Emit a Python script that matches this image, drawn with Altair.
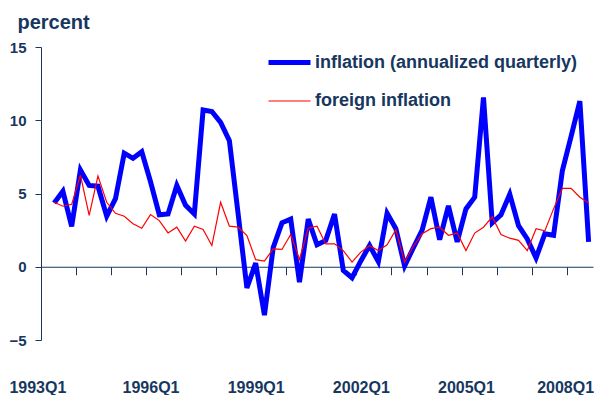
import altair as alt
import pandas as pd

# Quarterly categories 1993Q1 .. 2008Q3
quarters = [f"{y}Q{q}" for y in range(1993, 2009) for q in range(1, 5)][:63]

# inflation (annualized quarterly), starts 1993Q2 (1993Q1 empty)
inflation = [None,
    4.35, 5.15, 2.75, 6.6, 5.55, 5.5, 3.45, 4.65, 7.75, 7.4,
    7.85, 5.8, 3.55, 3.6, 5.55, 4.2, 3.6, 10.7, 10.6, 9.85,
    8.6, 3.6, -1.45, 0.25, -3.3, 1.3, 3.0, 3.25, -1.05, 3.25,
    1.5, 1.8, 3.6, -0.25, -0.75, 0.4, 1.45, 0.35, 3.65, 2.6,
    0.05, 1.3, 2.5, 4.75, 1.85, 4.15, 1.7, 3.95, 4.75, 11.55,
    3.0, 3.55, 4.95, 2.8, 1.9, 0.6, 2.25, 2.15, 6.55, 8.9,
    11.3, 1.7]

foreign = [None,
    4.4, 4.13, 4.26, 6.26, 3.5, 6.2, 4.4, 3.65, 3.45, 2.93,
    2.63, 3.56, 3.15, 2.31, 2.7, 1.75, 2.77, 2.54, 1.45, 4.4,
    2.77, 2.7, 2.13, 0.48, 0.39, 1.22, 1.18, 2.2, 0.5, 2.63,
    2.77, 1.56, 1.56, 1.1, 0.32, 1.0, 1.43, 1.11, 1.5, 2.53,
    0.32, 1.4, 2.25, 2.6, 2.7, 2.15, 2.3, 1.1, 2.3, 2.7,
    3.4, 2.2, 1.95, 1.8, 1.1, 2.6, 2.45, 3.95, 5.35, 5.35,
    4.75, 4.35]

series_names = ["inflation (annualized quarterly)", "foreign inflation"]
series_colors = ["#0000FF", "#FF0000"]
series_widths = [5, 1.2]

label_quarters = ["1993Q1", "1996Q1", "1999Q1", "2002Q1", "2005Q1", "2008Q1"]
y_ticks = [-5, 0, 5, 10, 15]

NAVY = "#17375E"
FONT = "Liberation Sans"

rows = []
for name, vals in zip(series_names, [inflation, foreign]):
    for k, (q, v) in enumerate(zip(quarters, vals)):
        if v is not None:
            rows.append({"quarter": q, "k": k, "series": name, "value": v})
df = pd.DataFrame(rows)

label_pos = [quarters.index(q) for q in label_quarters]
label_expr = " : ".join(
    [f"datum.value == {p} ? '{q}'" for p, q in zip(label_pos, label_quarters)]
) + " : ''"
tick_pos = [k - 0.5 for k in range(0, 63, 4)]

# first and last labels nudged inward so they stay inside the chart
label_shift = {
    "condition": [
        {"test": f"datum.value == {label_pos[0]}", "value": -8},
        {"test": f"datum.value == {label_pos[-1]}", "value": -6},
    ],
    "value": 0,
}

x_scale = alt.Scale(domain=[-0.5, len(quarters) - 0.5], nice=False, zero=False)
y_scale = alt.Scale(domain=[-5, 15], nice=False)
color_scale = alt.Scale(domain=series_names, range=series_colors)
width_scale = alt.Scale(domain=series_names, range=series_widths)

H = 293
legend = alt.Legend(
    title=None, orient="none", legendX=225, legendY=-8, symbolType="stroke",
    symbolSize=1764, labelFontSize=18, labelFont=FONT, labelFontWeight="bold",
    labelColor=NAVY, padding=0, rowPadding=6, labelOffset=2, symbolOpacity=1,
    labelLimit=0,
)

y_enc = alt.Y("value:Q", scale=y_scale, axis=alt.Axis(
    values=y_ticks, grid=False, title="percent", titleAngle=0, titleX=-24,
    titleY=-19, titleAlign="left", titleBaseline="alphabetic", titleFont=FONT,
    titleFontSize=20, titleFontWeight="bold", titleColor=NAVY,
    labelFont=FONT, labelFontSize=15, labelFontWeight="bold", labelColor=NAVY,
    labelPadding=9, tickSize=6, tickColor=NAVY, domainColor=NAVY,
))

blue = alt.Chart(df).transform_filter(alt.datum.series == series_names[0]).mark_line().encode(
    x=alt.X("k:Q", scale=x_scale, axis=alt.Axis(
        values=tick_pos, labels=False, grid=False, title=None, orient="bottom",
        tickSize=8, tickColor=NAVY, domainColor=NAVY, offset=-H * 5 / 20,
    )),
    y=y_enc,
    color=alt.Color("series:N", scale=color_scale, legend=legend),
    strokeWidth=alt.StrokeWidth("series:N", scale=width_scale, legend=legend),
)

red = alt.Chart(df).transform_filter(alt.datum.series == series_names[1]).mark_line().encode(
    x=alt.X("k:Q", scale=x_scale, axis=alt.Axis(
        values=label_pos, labelExpr=label_expr, ticks=False, domain=False, grid=False,
        title=None, orient="bottom", labelPadding=39, labelFont=FONT, labelFontSize=16,
        labelFontWeight="bold", labelColor=NAVY, labelOffset=label_shift,
    )),
    y=y_enc,
    color=alt.Color("series:N", scale=color_scale, legend=legend),
    strokeWidth=alt.StrokeWidth("series:N", scale=width_scale, legend=legend),
)

chart = alt.layer(blue, red).resolve_axis(x="independent").properties(
    width=552, height=H, autosize=alt.AutoSizeParams(type="none"),
    padding={"left": 33, "top": 39, "right": 1, "bottom": 55},
).configure_view(stroke=None)

chart.save("out.html", embed_options={"renderer": "svg", "actions": False})
